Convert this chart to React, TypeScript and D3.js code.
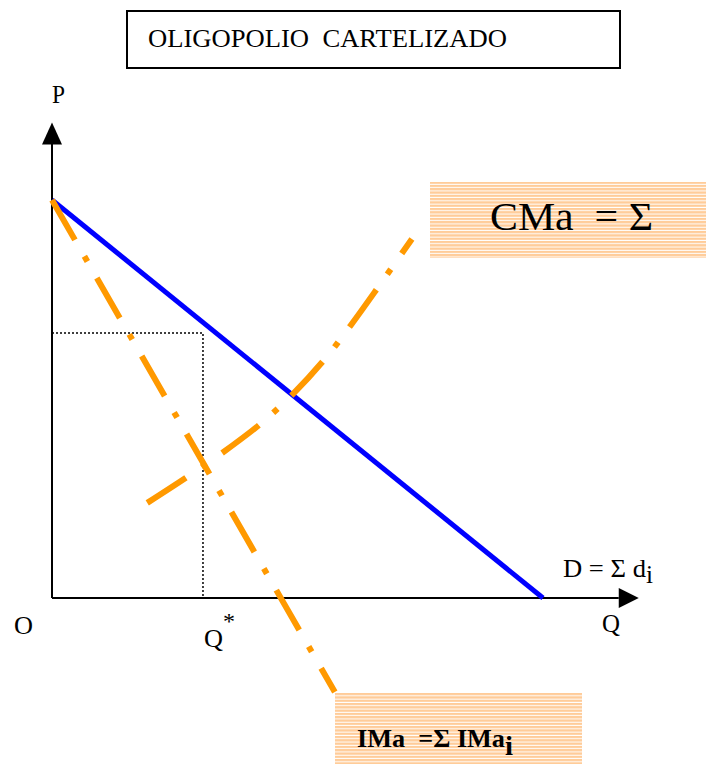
import React from "react";
import * as d3 from "d3";

// Data (economic units: Q horizontal, P vertical)
const demandPts: [number, number][] = [
  [0, 100],
  [100, 0],
];
const imaPts: [number, number][] = [
  [0, 100],
  [57.6, -23.6],
];
const cmaQ = [19.4, 27.5, 34.6, 42.4, 49.1, 55.6, 60.9, 66.6, 73.3];
const cmaP = [23.9, 30.4, 36.4, 43.7, 51.3, 60.1, 68.6, 78.4, 90.2];
const qStar = 30.75;
const pStar = 66.6;
const axisMax = 119.5;

const title = "OLIGOPOLIO  CARTELIZADO";

export default function App() {
  const W = 706;
  const H = 765;
  const x = d3.scaleLinear().domain([0, 100]).range([52, 543]);
  const y = d3.scaleLinear().domain([0, 100]).range([598, 200]);

  const line = d3
    .line<[number, number]>()
    .x((d) => x(d[0]))
    .y((d) => y(d[1]));
  const curve = d3
    .line<[number, number]>()
    .x((d) => x(d[0]))
    .y((d) => y(d[1]))
    .curve(d3.curveCatmullRom.alpha(0.5));

  const cmaPts: [number, number][] = cmaQ.map((q, i) => [q, cmaP[i]]);

  const x0 = x(0);
  const y0 = y(0);
  const xEnd = x(axisMax);
  const yEnd = y(axisMax);
  const serif = "'Liberation Serif', 'Times New Roman', serif";
  const orange = "#FF9900";
  const dash = "46,19,6,19";

  return (
    <svg width={W} height={H} style={{ position: "absolute", left: 0, top: 0 }}>
      <defs>
        <pattern id="stripes" patternUnits="userSpaceOnUse" width="8" height="3.3">
          <rect x="0" y="0" width="8" height="2.3" fill="#FFCC99" />
        </pattern>
      </defs>
      <rect width={W} height={H} fill="#fff" />

      {/* title box */}
      <rect x={127} y={11} width={493} height={57} fill="none" stroke="#000" strokeWidth={2} />
      <text x={148} y={47} fontFamily={serif} fontSize={25} fill="#000" style={{ whiteSpace: "pre" }} textLength={359} lengthAdjust="spacingAndGlyphs">
        {title}
      </text>

      {/* axes */}
      <line x1={x0} y1={y0} x2={x0} y2={yEnd + 20} stroke="#000" strokeWidth={2} />
      <path d={`M${x0 - 10},${yEnd + 22} L${x0},${yEnd} L${x0 + 10},${yEnd + 22} Z`} fill="#000" />
      <line x1={x0} y1={y0} x2={xEnd - 20} y2={y0} stroke="#000" strokeWidth={2} />
      <path d={`M${xEnd - 20},${y0 - 10} L${xEnd},${y0} L${xEnd - 20},${y0 + 10} Z`} fill="#000" />

      {/* dotted guides */}
      <path
        d={`M${x0},${y(pStar)} L${x(qStar)},${y(pStar)} L${x(qStar)},${y0}`}
        fill="none"
        stroke="#000"
        strokeWidth={1.5}
        strokeDasharray="2,2"
      />

      {/* demand */}
      <path d={line(demandPts) || ""} fill="none" stroke="#0000FF" strokeWidth={5} />
      {/* IMa */}
      <path d={line(imaPts) || ""} fill="none" stroke={orange} strokeWidth={6} strokeDasharray={dash} />
      {/* CMa */}
      <path d={curve(cmaPts) || ""} fill="none" stroke={orange} strokeWidth={6} strokeDasharray={dash} />

      {/* axis labels */}
      <text x={52} y={103} fontFamily={serif} fontSize={26} fill="#000" textLength={13} lengthAdjust="spacingAndGlyphs">P</text>
      <text x={14} y={634} fontFamily={serif} fontSize={26} fill="#000" textLength={19} lengthAdjust="spacingAndGlyphs">O</text>
      <text x={204} y={647} fontFamily={serif} fontSize={26} fill="#000" textLength={19} lengthAdjust="spacingAndGlyphs">Q</text>
      <text x={223} y={629} fontFamily={serif} fontSize={24} fill="#000">*</text>
      <text x={602} y={632} fontFamily={serif} fontSize={26} fill="#000" textLength={18} lengthAdjust="spacingAndGlyphs">Q</text>
      <text x={563} y={577} fontFamily={serif} fontSize={25} fill="#000" style={{ whiteSpace: "pre" }} textLength={83} lengthAdjust="spacingAndGlyphs">
        {"D = Σ d"}
      </text>
      <text x={646} y={583} fontFamily={serif} fontSize={25} fill="#000" textLength={7} lengthAdjust="spacingAndGlyphs">i</text>

      {/* CMa box */}
      <rect x={430} y={182} width={276} height={76} fill="url(#stripes)" />
      <text x={490} y={230} fontFamily={serif} fontSize={41} fill="#000" style={{ whiteSpace: "pre" }} textLength={163} lengthAdjust="spacingAndGlyphs">
        {"CMa  = Σ"}
      </text>

      {/* IMa box */}
      <rect x={335} y={693} width={247} height={71} fill="url(#stripes)" />
      <text x={357} y={747} fontFamily={serif} fontSize={25} fontWeight="bold" fill="#000" style={{ whiteSpace: "pre" }} textLength={148} lengthAdjust="spacingAndGlyphs">
        {"IMa  =Σ IMa"}
      </text>
      <text x={505} y={755} fontFamily={serif} fontSize={27} fontWeight="bold" fill="#000" textLength={8} lengthAdjust="spacingAndGlyphs">i</text>
    </svg>
  );
}
